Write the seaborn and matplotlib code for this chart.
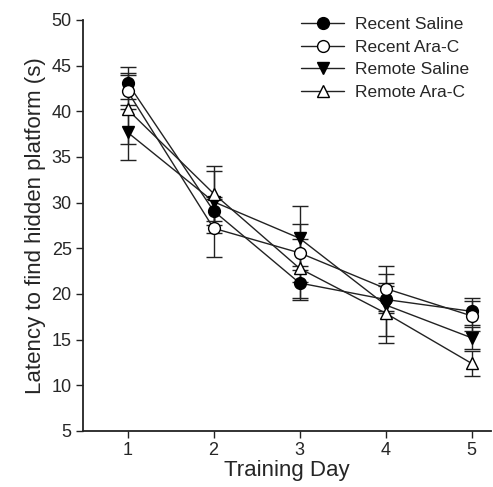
import numpy as np
import pandas as pd
import matplotlib
matplotlib.use("Agg")
import matplotlib.pyplot as plt
import seaborn as sns

days = [1, 2, 3, 4, 5]
groups = ["Recent Saline", "Recent Ara-C", "Remote Saline", "Remote Ara-C"]

recent_saline = [43.1, 29.1, 21.2, 19.4, 18.1]
recent_arac = [42.2, 27.2, 24.5, 20.6, 17.6]
remote_saline = [37.7, 30.1, 26.1, 18.8, 15.2]
remote_arac = [40.2, 31.0, 22.8, 17.9, 12.4]

recent_saline_err = [1.8, 1.5, 1.9, 1.5, 1.5]
recent_arac_err = [2.0, 3.2, 3.2, 2.5, 1.6]
remote_saline_err = [3.0, 3.4, 3.5, 3.4, 1.2]
remote_arac_err = [3.8, 3.0, 3.2, 3.3, 1.4]

medias = [recent_saline, recent_arac, remote_saline, remote_arac]
erros = [recent_saline_err, recent_arac_err, remote_saline_err, remote_arac_err]

df = pd.DataFrame({
    "dia": days * 4,
    "grupo": np.repeat(groups, len(days)),
    "latencia": np.concatenate(medias),
    "erro": np.concatenate(erros),
})

marcadores = {"Recent Saline": "o", "Recent Ara-C": "o",
              "Remote Saline": "v", "Remote Ara-C": "^"}
preenchimento = {"Recent Saline": "black", "Recent Ara-C": "white",
                 "Remote Saline": "black", "Remote Ara-C": "white"}
COR = "#222222"

sns.set_style("ticks")
plt.rcParams["font.family"] = ["Liberation Sans", "DejaVu Sans"]

fig = plt.figure(figsize=(4.93, 4.87), dpi=100)
ax = fig.add_axes([0.168, 0.115, 0.827, 0.844])

for g in groups:
    sub = df[df["grupo"] == g]
    ax.errorbar(sub["dia"], sub["latencia"], yerr=sub["erro"], fmt="none",
                ecolor=COR, elinewidth=1.0, capsize=6, capthick=1.0,
                zorder=2)

for g in groups:
    sub = df[df["grupo"] == g]
    sns.lineplot(data=sub, x="dia", y="latencia", color=COR, linewidth=1.0,
                 marker=marcadores[g], markersize=8.5,
                 markerfacecolor=preenchimento[g], markeredgecolor="black",
                 markeredgewidth=1.0, label=g, ax=ax, zorder=3)

ax.legend(loc="upper right", bbox_to_anchor=(0.985, 1.045),
          frameon=False, fontsize=12.5, handlelength=2.5, handletextpad=0.6,
          labelspacing=0.42)

ax.set_xlim(0.48, 5.22)
ax.set_ylim(5, 50)
ax.set_xticks(days)
ax.set_yticks(range(5, 51, 5))
ax.tick_params(labelsize=13, length=5, width=1.0, color=COR, pad=3)
ax.set_xlabel("Training Day", fontsize=16, labelpad=1)
ax.set_ylabel("Latency to find hidden platform (s)", fontsize=16, labelpad=4)
for lado in ["left", "bottom"]:
    ax.spines[lado].set_linewidth(1.3)
    ax.spines[lado].set_color(COR)
sns.despine(ax=ax)

fig.savefig("out.png", dpi=100)
